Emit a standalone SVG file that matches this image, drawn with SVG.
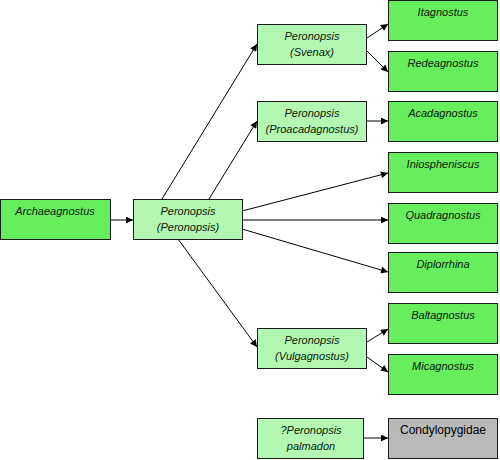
<svg xmlns="http://www.w3.org/2000/svg" width="500" height="460" viewBox="0 0 500 460">
<style>
.d{fill:#66ee5e;stroke:#1a1a1a;stroke-width:1}
.l{fill:#b3f7b3;stroke:#1a1a1a;stroke-width:1}
.g{fill:#b9b9b9;stroke:#1a1a1a;stroke-width:1}
text{font-family:"Liberation Sans",Arial,sans-serif;font-size:11px;font-style:italic;fill:#0a1a0a;text-anchor:middle}
text.n{font-style:normal;font-size:12px;fill:#000}
.c line{stroke:#000;stroke-width:1;marker-end:url(#a)}
</style>
<defs>
<marker id="a" viewBox="0 0 10 10" refX="10" refY="5" markerWidth="9" markerHeight="7" markerUnits="userSpaceOnUse" orient="auto">
<path d="M0,0L10,5L0,10z" fill="#000"/>
</marker>
</defs>
<g class="c">
<line x1="111" y1="220" x2="133" y2="220"/>
<line x1="162" y1="199" x2="257" y2="44"/>
<line x1="209" y1="199" x2="257" y2="121"/>
<line x1="242" y1="211" x2="388" y2="173"/>
<line x1="242" y1="220" x2="388" y2="220"/>
<line x1="242" y1="229" x2="388" y2="272"/>
<line x1="178" y1="239" x2="257" y2="347"/>
<line x1="367" y1="38" x2="388" y2="24"/>
<line x1="367" y1="51" x2="388" y2="72"/>
<line x1="367" y1="121" x2="388" y2="121"/>
<line x1="367" y1="342" x2="388" y2="329"/>
<line x1="367" y1="357" x2="388" y2="372"/>
<line x1="364" y1="438" x2="388" y2="438"/>
</g>
<g id="archaeagnostus"><rect class="d" x="0.5" y="199.5" width="110" height="40"/><text x="55" y="215">Archaeagnostus</text></g>
<g id="peronopsis"><rect class="l" x="133.5" y="199.5" width="109" height="40"/><text x="188" y="215">Peronopsis</text><text x="188" y="231">(Peronopsis)</text></g>
<g id="svenax"><rect class="l" x="257.5" y="24.5" width="109" height="40"/><text x="312" y="40">Peronopsis</text><text x="312" y="56">(Svenax)</text></g>
<g id="proacadagnostus"><rect class="l" x="257.5" y="101.5" width="109" height="40"/><text x="312" y="117">Peronopsis</text><text x="312" y="133">(Proacadagnostus)</text></g>
<g id="vulgagnostus"><rect class="l" x="257.5" y="328.5" width="109" height="40"/><text x="312" y="344">Peronopsis</text><text x="312" y="360">(Vulgagnostus)</text></g>
<g id="palmadon"><rect class="l" x="257.5" y="418.5" width="106" height="40"/><text x="311" y="434">?Peronopsis</text><text x="311" y="450">palmadon</text></g>
<g id="itagnostus"><rect class="d" x="388.5" y="0.5" width="109" height="40"/><text x="443" y="16">Itagnostus</text></g>
<g id="redeagnostus"><rect class="d" x="388.5" y="51.5" width="109" height="40"/><text x="443" y="67">Redeagnostus</text></g>
<g id="acadagnostus"><rect class="d" x="388.5" y="101.5" width="109" height="40"/><text x="443" y="117">Acadagnostus</text></g>
<g id="iniospheniscus"><rect class="d" x="388.5" y="152.5" width="109" height="40"/><text x="443" y="168">Iniospheniscus</text></g>
<g id="quadragnostus"><rect class="d" x="388.5" y="203.5" width="109" height="40"/><text x="443" y="219">Quadragnostus</text></g>
<g id="diplorrhina"><rect class="d" x="388.5" y="252.5" width="109" height="40"/><text x="443" y="268">Diplorrhina</text></g>
<g id="baltagnostus"><rect class="d" x="388.5" y="303.5" width="109" height="40"/><text x="443" y="319">Baltagnostus</text></g>
<g id="micagnostus"><rect class="d" x="388.5" y="354.5" width="109" height="40"/><text x="443" y="370">Micagnostus</text></g>
<g id="condylopygidae"><rect class="g" x="388.5" y="418.5" width="109" height="40"/><text class="n" x="443" y="434">Condylopygidae</text></g>
</svg>
